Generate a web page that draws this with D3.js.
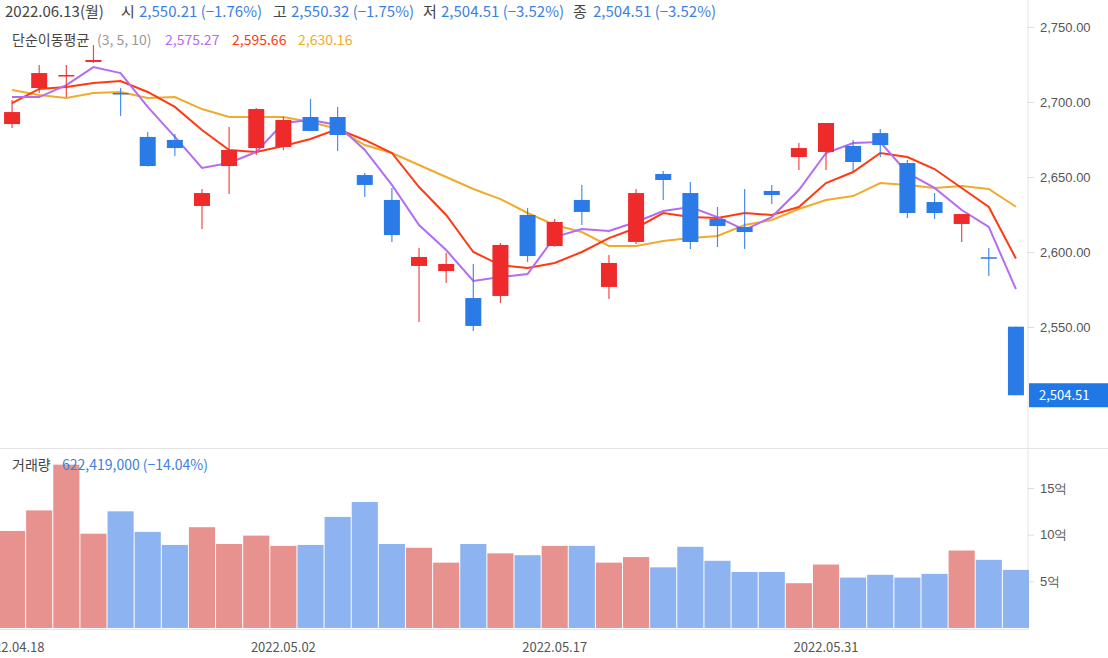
<!DOCTYPE html>
<html><head><meta charset="utf-8">
<script src="https://cdn.jsdelivr.net/npm/d3@7"></script>
<style>body{margin:0;background:#fff}svg{display:block;font-family:"Noto Sans CJK KR","Noto Sans",sans-serif}</style>
</head><body><svg id="c" width="1108" height="658"></svg>
<script>
const dates=["2022.04.18","04.19","04.20","04.21","04.22","04.25","04.26","04.27","04.28","04.29","2022.05.02","05.03","05.04","05.06","05.09","05.10","05.11","05.12","05.13","05.16","2022.05.17","05.18","05.19","05.20","05.23","05.24","05.25","05.26","05.27","05.30","2022.05.31","06.02","06.03","06.07","06.08","06.09","06.10","06.13"];
const open=[2685.3,2709.3,2717,2726.7,2706,2676.7,2674.7,2630.7,2657.3,2669.3,2670,2690,2690,2651.3,2634.7,2590.7,2587.3,2569.3,2570.7,2624.7,2604,2634.7,2576.7,2606.7,2652,2639.3,2622,2616.7,2640.7,2663.3,2666.7,2670.7,2679.3,2659.3,2633.3,2618.7,2596.5,2550.21];
const high=[2701.3,2724.7,2724.7,2738,2709.3,2680,2678.7,2642,2683.3,2696,2690,2702,2696.7,2652.7,2642.7,2602.7,2599.3,2592,2606,2629.3,2622,2644.7,2598,2642,2654,2646.7,2630,2642,2644.7,2672.7,2686,2674.7,2682,2661.3,2639.3,2625.5,2602.7,2550.32];
const low=[2682.7,2706,2703.3,2726,2690.7,2657,2664,2615.3,2638.7,2664.7,2668,2680.5,2667.3,2636.7,2606.7,2553.3,2579.3,2547.3,2566,2593.3,2603.5,2618,2568.7,2605.3,2634.7,2602,2603.3,2602,2632,2654.7,2654.7,2654,2663.3,2622.7,2622,2606.7,2584,2504.51];
const close=[2693.3,2719.3,2718,2728,2705,2657.3,2669.3,2639.3,2668,2695.3,2688,2680.7,2678,2644.7,2611.3,2596.7,2592,2550.7,2604.7,2597.3,2620,2626.7,2592.7,2639.3,2648,2606.7,2617.3,2613.3,2638,2669.3,2686,2660,2671.3,2626,2626,2625.3,2595.5,2504.51];
const up=[1,1,1,1,0,0,0,1,1,1,1,0,0,0,0,1,1,0,1,0,1,0,1,1,0,0,0,0,0,1,1,0,0,0,0,1,0,0];
const ma3=[2703.3,2703.3,2711.3,2723.3,2719.3,2696.7,2676.7,2656,2659.3,2666.7,2686,2688,2684.7,2668,2644.7,2618,2601.3,2580.7,2583.3,2585.3,2610,2615.3,2614,2620,2627.3,2630,2623.3,2614.7,2623.3,2641.3,2666,2672.7,2673.3,2652.7,2642.7,2628,2616.7,2575.27];
const ma5=[2699.3,2708.7,2710,2712.7,2714,2706.7,2696.7,2681.3,2668,2666.7,2670.7,2675.3,2682,2674.7,2666,2643.3,2624.7,2600,2591.3,2589.3,2592.7,2600,2609.3,2616,2626,2623.3,2622.7,2626,2624.7,2630,2646,2653.3,2666,2663.3,2655.3,2642.7,2630,2595.66];
const ma10=[2708,2704.7,2702.7,2706,2706.7,2702.7,2703.3,2695.3,2690,2690,2690,2686.7,2682,2671.3,2666,2658,2650,2642,2635.3,2626,2618,2613.3,2604,2604,2607.3,2609.3,2610.7,2618,2621.3,2628.7,2634.7,2637.3,2646,2644.7,2642.7,2644,2642,2630.16];
const volume=[10.4,12.6,17.5,10.1,12.5,10.3,8.9,10.8,9.0,9.9,8.8,8.9,11.9,13.5,9.0,8.6,7.0,9.0,8.0,7.8,8.8,8.8,7.0,7.6,6.5,8.7,7.2,6.0,6.0,4.8,6.8,5.4,5.7,5.4,5.8,8.3,7.3,6.22419];
const priceTicks=[2750,2700,2650,2600,2550];
const volTicks=[15,10,5];
const xLabels=["2022.04.18","2022.05.02","2022.05.17","2022.05.31"];

const svg=d3.select("#c");
const W=1028;
const x=d3.scaleBand().domain(d3.range(dates.length)).range([-1.5,W+1.5]).paddingInner(0);
const cx=i=>x(i)+x.bandwidth()/2;
const y=d3.scaleLinear().domain([2500,2750]).range([402,27]);
const yv=d3.scaleLinear().domain([0,15]).range([628,488]);
const RED="#ee2a2a",BLUE="#2a7ae8";

svg.append("line").attr("x1",W).attr("x2",W).attr("y1",0).attr("y2",630).attr("stroke","#e4e4e4");
svg.append("line").attr("x1",0).attr("x2",1108).attr("y1",448.5).attr("y2",448.5).attr("stroke","#e4e4e4");
svg.append("line").attr("x1",0).attr("x2",W).attr("y1",629.5).attr("y2",629.5).attr("stroke","#e4e4e4");

const ya=svg.append("g").attr("transform",`translate(${W},0)`).call(d3.axisRight(y).tickValues(priceTicks).tickSize(6).tickFormat(d3.format(",.2f")));
ya.select(".domain").remove();
ya.selectAll("line").attr("stroke","#ddd");
ya.selectAll("text").attr("fill","#555").attr("font-size",13).attr("x",12);
const va=svg.append("g").attr("transform",`translate(${W},0)`).call(d3.axisRight(yv).tickValues(volTicks).tickSize(6).tickFormat(d=>d+"억"));
va.select(".domain").remove();
va.selectAll("line").attr("stroke","#ddd");
va.selectAll("text").attr("fill","#555").attr("font-size",13).attr("x",12);

svg.append("g").selectAll("rect").data(volume).join("rect")
 .attr("x",(d,i)=>x(i)+0.5).attr("width",x.bandwidth()-1)
 .attr("y",d=>yv(d)).attr("height",d=>yv(0)-yv(d))
 .attr("fill",(d,i)=>up[i]?"#e8928f":"#8db3f0");

const line=d3.line().x((d,i)=>cx(i)).y(d=>y(d));
[[ma10,"#f0ab2d"],[ma5,"#ff3a12"],[ma3,"#b46cf0"]].forEach(([a,c])=>
 svg.append("path").datum(a).attr("d",line).attr("fill","none").attr("stroke",c).attr("stroke-width",2));

const cg=svg.append("g");
dates.forEach((d,i)=>{
 const col=up[i]?RED:BLUE;
 cg.append("line").attr("x1",cx(i)).attr("x2",cx(i)).attr("y1",y(high[i])).attr("y2",y(low[i])).attr("stroke",col).attr("stroke-width",1.2).attr("opacity",0.85);
 const t=y(Math.max(open[i],close[i])),b=y(Math.min(open[i],close[i]));
 cg.append("rect").attr("x",cx(i)-8).attr("width",16).attr("y",t).attr("height",Math.max(1.5,b-t)).attr("fill",col);
});

const lastY=y(close[close.length-1]);
svg.append("rect").attr("x",W+1).attr("y",lastY-12).attr("width",80).attr("height",24).attr("fill","#1f78e6");
svg.append("text").attr("x",W+11).attr("y",lastY+5).attr("fill","#fff").attr("font-size",13).text("2,504.51");

svg.append("g").selectAll("text").data(xLabels).join("text")
 .attr("x",d=>cx(dates.indexOf(d))).attr("y",652).attr("text-anchor","middle")
 .attr("fill","#555").attr("font-size",13).text(d=>d);

const G="#444",B="#3d7fe0";
function place(yy,fs,parts){parts.forEach(([s,c,xx])=>svg.append("text").attr("x",xx).attr("y",yy).attr("font-size",fs).attr("fill",c).text(s));}
place(17,15,[["2022.06.13(월)",G,5],["시",G,121],["2,550.21 (−1.76%)",B,139],["고",G,273],["2,550.32 (−1.75%)",B,291],["저",G,423],["2,504.51 (−3.52%)",B,441],["종",G,573],["2,504.51 (−3.52%)",B,593]]);
place(45,14,[["단순이동평균",G,12],["(3, 5, 10)","#999",97],["2,575.27","#b46cf0",165],["2,595.66","#ff3a12",232],["2,630.16","#f0ab2d",298]]);
place(470,14,[["거래량",G,12],["622,419,000 (−14.04%)",B,62]]);
</script></body></html>
